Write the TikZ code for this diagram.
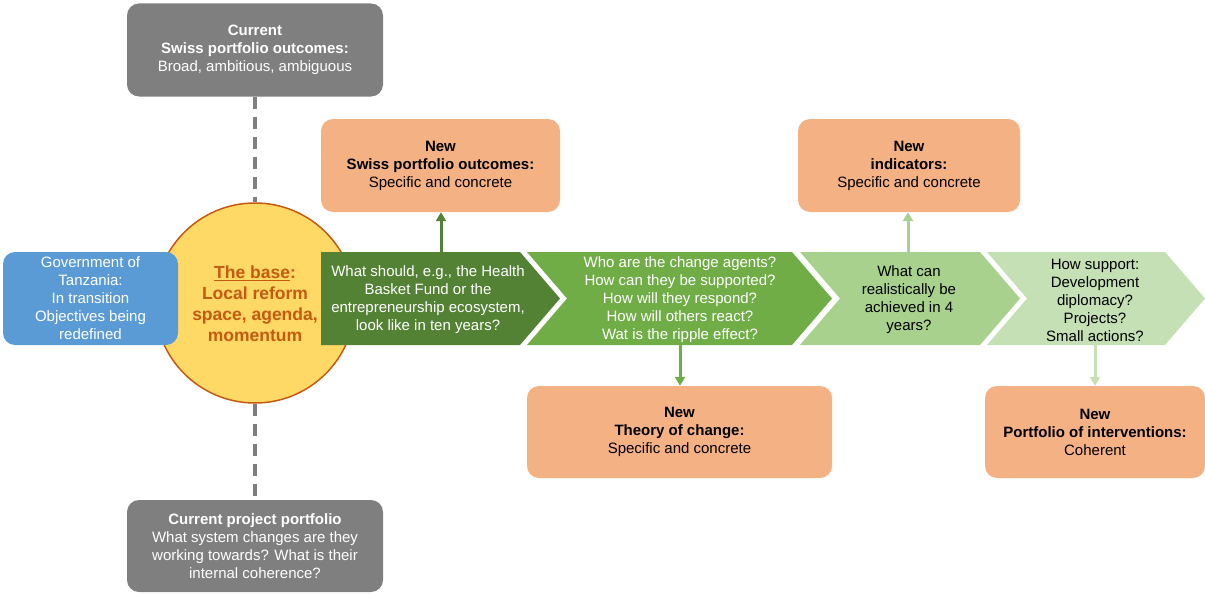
\documentclass[tikz,border=0pt]{standalone}
\usepackage{fontspec}
\setmainfont{Liberation Sans}
\usetikzlibrary{arrows.meta}
\definecolor{boxgray}{HTML}{7F7F7F}
\definecolor{govblue}{HTML}{5B9BD5}
\definecolor{basefill}{HTML}{FFD966}
\definecolor{baseline}{HTML}{C55A11}
\definecolor{newfill}{HTML}{F4B183}
\definecolor{greenA}{HTML}{548235}
\definecolor{greenB}{HTML}{70AD47}
\definecolor{greenC}{HTML}{A9D18E}
\definecolor{greenD}{HTML}{C5E0B4}
\tikzset{
  graybox/.style={rectangle,rounded corners=12pt,fill=boxgray,text=white,align=center,
    inner sep=0pt,minimum width=256pt,minimum height=93pt},
  newbox/.style={rectangle,rounded corners=12pt,fill=newfill,text=black,align=center,
    inner sep=0pt,minimum height=93pt},
  chevtext/.style={text=white,align=center,inner sep=0pt},
  dashlink/.style={boxgray,line width=3.5pt,dash pattern=on 12pt off 8pt},
  uparrow/.style={line width=3pt,-{Triangle[width=10pt,length=9pt]}}
}
\begin{document}
\begin{tikzpicture}[x=1pt,y=-1pt,font=\fontsize{15}{18}\selectfont]
    \useasboundingbox (0,0) rectangle (1205,594);
    \node[graybox] (curout) at (255,50) {\textbf{Current}\\\textbf{Swiss portfolio outcomes:}\\Broad, ambitious, ambiguous};
    \node[graybox,minimum height=92pt] (curproj) at (255,546) {\textbf{Current project portfolio}\\What system changes are they\\working towards? What is their\\internal coherence?};
    \node[circle,fill=basefill,draw=baseline,line width=1.5pt,minimum size=200pt,inner sep=0pt] (base) at (255,303) {};
    \draw[dashlink](curout)--(base);
    \draw[dashlink](base)--(curproj);
    \node[text=baseline,align=center,font=\bfseries\fontsize{17.5}{21}\selectfont] (basetext) at (255,304) {\underline{The base}:\\Local reform\\space, agenda,\\momentum};
    \node[rectangle,rounded corners=12pt,fill=govblue,text=white,align=center,inner sep=0pt,
      minimum width=175pt,minimum height=93pt] (gov) at (90.5,298.5) {Government of\\Tanzania:\\In transition\\Objectives being\\redefined};
    % chevrons
    \fill[greenA](321,252)--(520,252)--(560,298.5)--(520,345)--(321,345)--cycle;
    \fill[greenB](527,252)--(792,252)--(832,298.5)--(792,345)--(527,345)--(567,298.5)--cycle;
    \fill[greenC](800,252)--(980,252)--(1020,298.5)--(980,345)--(800,345)--(840,298.5)--cycle;
    \fill[greenD](987,252)--(1165,252)--(1205,298.5)--(1165,345)--(987,345)--(1027,298.5)--cycle;
    \node[chevtext] (c1) at (428,300) {What should, e.g., the Health\\Basket Fund or the\\entrepreneurship ecosystem,\\look like in ten years?};
    \node[chevtext] (c2) at (680,300) {Who are the change agents?\\How can they be supported?\\How will they respond?\\How will others react?\\Wat is the ripple effect?};
    \node[chevtext,text=black] (c3) at (909,300) {What can\\realistically be\\achieved in 4\\years?};
    \node[chevtext,text=black] (c4) at (1095,300) {How support:\\Development\\diplomacy?\\Projects?\\Small actions?};
    \coordinate (c1top) at (441,252);
    \coordinate (c2bot) at (680,345);
    \coordinate (c3top) at (908,252);
    \coordinate (c4bot) at (1095,345);
    % new outcomes
    \node[newbox,minimum width=239pt] (newout) at (440.5,165.5) {\textbf{New}\\\textbf{Swiss portfolio outcomes:}\\Specific and concrete};
    \node[newbox,minimum width=222pt] (newind) at (909,165.5) {\textbf{New}\\\textbf{indicators:}\\Specific and concrete};
    \node[newbox,minimum width=305pt,minimum height=92pt] (toc) at (679.5,432) {\textbf{New}\\\textbf{Theory of change:}\\Specific and concrete};
    \node[newbox,minimum width=220pt,minimum height=92pt] (newport) at (1095,432) {\textbf{New}\\\textbf{Portfolio of interventions:}\\Coherent};
    \draw[uparrow,greenA](c1top)--(newout.south -| c1top);
    \draw[uparrow,greenC](c3top)--(newind.south -| c3top);
    \draw[uparrow,greenB](c2bot)--(toc.north -| c2bot);
    \draw[uparrow,greenD](c4bot)--(newport.north -| c4bot);
  \end{tikzpicture}
\end{document}
